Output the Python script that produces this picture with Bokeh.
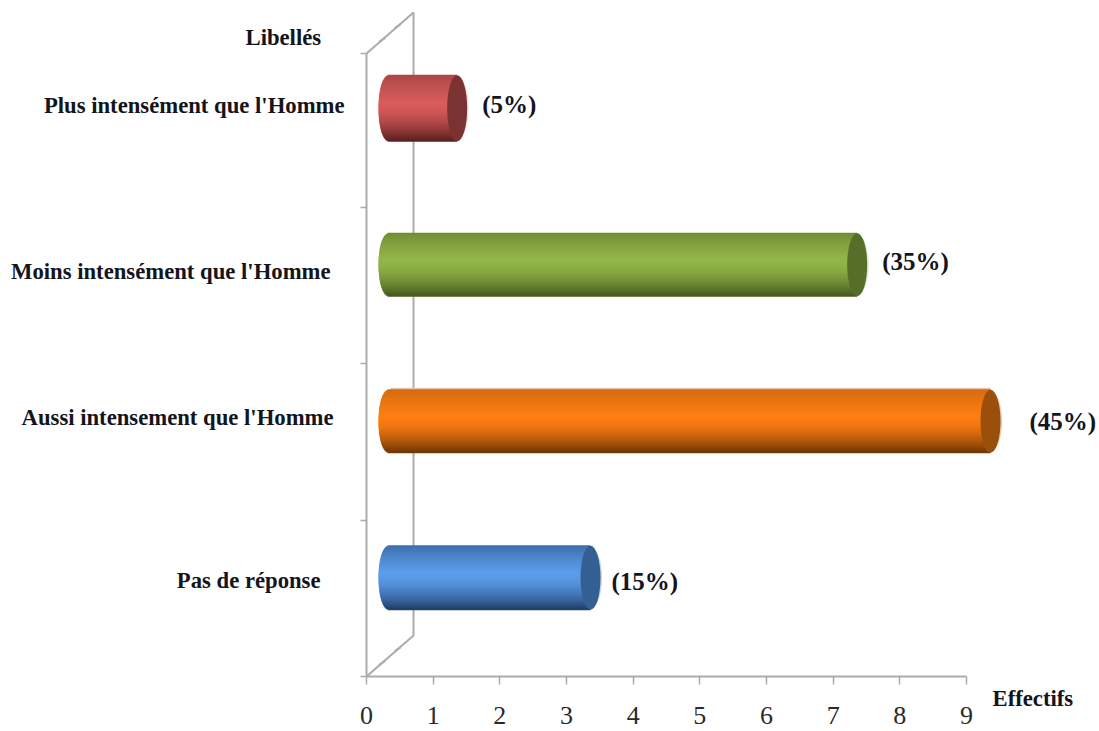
import math
from bokeh.embed import file_html
from bokeh.resources import INLINE
from bokeh.models import Range1d, FixedTicker, Label, ColumnDataSource
from bokeh.plotting import figure

# Survey results, bottom row first
labels = ["Pas de réponse", "Aussi intensement que l'Homme",
          "Moins intensément que l'Homme", "Plus intensément que l'Homme"]
effectifs = [3, 9, 7, 1]
percents = ["(15%)", "(45%)", "(35%)", "(5%)"]
x_ticks = [0, 1, 2, 3, 4, 5, 6, 7, 8, 9]

# Shading of each cylinder: top edge, highlight, bottom edge, end cap, rim
shades = [
    ("#3a6ca8", "#5d9dec", "#203f69", "#345f92", "#c3d5ea"),
    ("#d06a10", "#ff7e12", "#6e3703", "#9a4f0a", "#ecc8a8"),
    ("#6f8b34", "#93b648", "#45591c", "#566e28", "#dbe5c6"),
    ("#a84545", "#d85c5c", "#5b2020", "#7a3232", "#f0dcdc"),
]

W, H = 1099, 731
LEFT, BOTTOM = 366, 55
PX_X = 600 / 9        # pixels per unit of effectif
PX_Y = 156.5          # pixels per category row
DEPTH_X, DEPTH_Y = 24, 20.5   # half depth of the 3D box, where the cylinders stand
WALL_X, WALL_Y = 47, 41       # full depth of the 3D box
TOP_TRIM = 3                  # the upper row is drawn slightly shorter
GREY = "#ababab"
SERIF = "Liberation Serif"
INK = "#14141c"
LABEL_SIZE = "22.7px"


def dx(px):
    return px / PX_X


def dy(px):
    return px / PX_Y


y_lo = -0.5
p = figure(width=W, height=H, output_backend="svg", toolbar_location=None,
           x_range=Range1d(-LEFT / PX_X, (W - LEFT) / PX_X),
           y_range=Range1d(y_lo - BOTTOM / PX_Y, y_lo + (H - BOTTOM) / PX_Y),
           min_border=0,
           background_fill_color="white", border_fill_color="white")
p.outline_line_color = None
p.grid.visible = False

# Effectifs axis
xa = p.xaxis[0]
xa.fixed_location = y_lo
xa.ticker = FixedTicker(ticks=x_ticks)
xa.bounds = (0, 9)
xa.axis_line_color = GREY
xa.axis_line_width = 2
xa.major_tick_line_color = GREY
xa.major_tick_line_width = 1.5
xa.major_tick_out = 8
xa.major_tick_in = 0
xa.minor_tick_line_color = None
xa.major_label_standoff = 22
xa.major_label_text_font = SERIF
xa.major_label_text_font_size = "26px"
xa.major_label_text_color = "#2a2a2a"

# Category axis: the ticks separate the rows and carry no labels
row_edges = [i - 0.5 for i in range(len(labels))] + [len(labels) - 0.5 - dy(TOP_TRIM)]
ya = p.yaxis[0]
ya.fixed_location = 0
ya.ticker = FixedTicker(ticks=row_edges)
ya.bounds = (row_edges[0], row_edges[-1])
ya.axis_line_color = GREY
ya.axis_line_width = 2
ya.major_tick_line_color = GREY
ya.major_tick_line_width = 1.5
ya.major_tick_out = 6
ya.major_tick_in = 0
ya.minor_tick_line_color = None
ya.major_label_overrides = {t: "" for t in row_edges}
ya.major_label_standoff = 0

# Back wall of the 3D box
y_hi = row_edges[-1]
wall_x, wall_y = dx(WALL_X), dy(WALL_Y)
p.line([0, wall_x, wall_x, 0], [y_lo, y_lo + wall_y, y_hi + wall_y, y_hi],
       line_color=GREY, line_width=2)
for frac in (1 / 3, 2 / 3):
    for base in (y_lo, y_hi):
        cx, cy = wall_x * frac, base + wall_y * frac
        p.segment(cx - dx(3), cy - dy(2), cx + dx(3), cy + dy(2),
                  line_color=GREY, line_width=2)


def mix(a, b, t):
    ca = [int(a[i:i + 2], 16) for i in (1, 3, 5)]
    cb = [int(b[i:i + 2], 16) for i in (1, 3, 5)]
    return "#%02x%02x%02x" % tuple(round(u + (v - u) * t) for u, v in zip(ca, cb))


# Cylinders: thin horizontal strips give the round shading and the rounded back
BAR_H = [64, 63, 63, 66]
PCT_GAP = [21, 39, 25, 25]       # space from the cap centre to the percentage
PCT_DROP = [4, 0, -3, -4]        # vertical nudge of the percentage, downward
CAP_RX = 10
BACK_RX = 12
STEP = 1
for i, value in enumerate(effectifs):
    top, mid, bot, cap, rim = shades[i]
    half = BAR_H[i] / 2
    yc = i + dy(DEPTH_Y)
    x0, xe = dx(DEPTH_X), value + dx(DEPTH_X)
    strips = {"y": [], "left": [], "right": [], "color": []}
    n = int(BAR_H[i] / STEP)
    for k in range(n):
        t = (k + 0.5) / n                # 0 at the top edge, 1 at the bottom
        u = 2 * t - 1
        if t < 0.42:
            c = mix(top, mid, (t / 0.42) ** 0.8)
        else:
            c = mix(mid, bot, ((t - 0.42) / 0.58) ** 1.7)
        strips["y"].append(yc + dy(half * (1 - 2 * t)))
        strips["left"].append(x0 - dx(BACK_RX) * math.sqrt(max(0.0, 1 - u * u)) ** 0.8)
        strips["right"].append(xe)
        strips["color"].append(c)
    # pale rim around the far end, and the highlight above the longest cylinder
    p.ellipse(xe + dx(1), yc, width=dx(2 * CAP_RX + 1), height=dy(BAR_H[i] - 4),
              fill_color=rim, line_color=None)
    if value == max(effectifs):
        p.quad(left=x0, right=xe, bottom=yc + dy(half - 1), top=yc + dy(half + 2),
               fill_color=rim, line_color=None)
    p.hbar(y="y", left="left", right="right", height=dy(STEP + 1),
           fill_color="color", line_color=None, source=ColumnDataSource(strips))
    p.ellipse(xe, yc, width=dx(2 * CAP_RX), height=dy(BAR_H[i]),
              fill_color=cap, line_color=None)
    p.add_layout(Label(x=value + dx(DEPTH_X + PCT_GAP[i]), y=yc - dy(PCT_DROP[i]), text=percents[i],
                       text_font=SERIF, text_font_style="bold", text_font_size="25px",
                       text_color=INK, text_align="left", text_baseline="middle"))

# Category names, each set against its own right edge and baseline
LABEL_RIGHT = [320, 333, 330, 344]
LABEL_DROP = [6, -1, 10, 0]
for i, name in enumerate(labels):
    p.add_layout(Label(x=dx(LABEL_RIGHT[i] - LEFT), y=i + dy(DEPTH_Y + 3 - LABEL_DROP[i]), text=name,
                       text_font=SERIF, text_font_style="bold", text_font_size=LABEL_SIZE,
                       text_color=INK, text_align="right", text_baseline="middle"))

# Axis titles
p.add_layout(Label(x=dx(245 - LEFT), y=y_lo + dy(H - BOTTOM - 37), text="Libellés",
                   text_font=SERIF, text_font_style="bold", text_font_size=LABEL_SIZE,
                   text_color=INK, text_align="left", text_baseline="middle"))
p.add_layout(Label(x=dx(992 - LEFT), y=y_lo - dy(22), text="Effectifs",
                   text_font=SERIF, text_font_style="bold", text_font_size=LABEL_SIZE,
                   text_color=INK, text_align="left", text_baseline="middle"))

open("out.html", "w").write(file_html(p, INLINE))
